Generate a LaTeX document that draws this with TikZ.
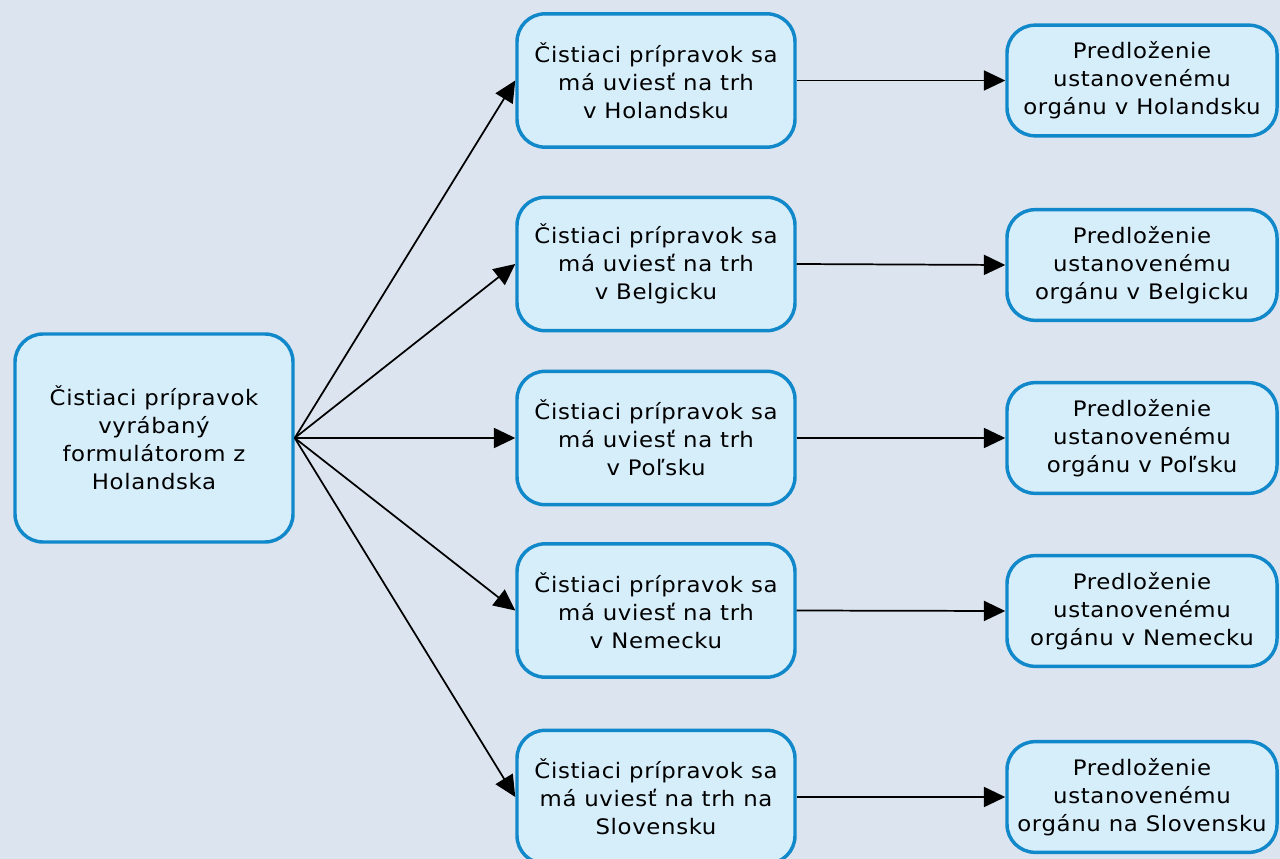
\documentclass[tikz,border=0pt]{standalone}
\usepackage{fontspec}
\setmainfont{DejaVu Sans}[FakeStretch=1.07, LetterSpace=3]
\usetikzlibrary{arrows.meta}
\definecolor{pagebg}{HTML}{DCE4EF}
\definecolor{boxfill}{HTML}{D6EDFA}
\definecolor{boxline}{HTML}{1088CA}
\tikzset{
  box/.style={draw=boxline, fill=boxfill, line width=2.6pt, rounded corners=21pt,
    align=center, inner sep=0pt, font=\fontsize{16}{21}\selectfont},
  srcbox/.style={box, minimum width=208.5pt, minimum height=156pt},
  midbox/.style={box, minimum width=208.5pt, minimum height=100pt},
  dstbox/.style={box, minimum width=202.5pt, minimum height=83pt},
  link/.style={draw=black, line width=1.3pt, -{Triangle[length=16pt,width=15pt]}}
}
\begin{document}
\begin{tikzpicture}[x=0.75pt, y=-0.75pt]
  \useasboundingbox (0,0) rectangle (1280,859);
  \fill[pagebg] (0,0) rectangle (1280,859);
  \clip (0,0) rectangle (1280,859);

  % producer
  \node[srcbox] (src) at (154,438) {Čistiaci prípravok\\vyrábaný\\formulátorom z\\Holandska};

  % target markets
  \node[midbox] (m1) at (656,80.5) {Čistiaci prípravok sa\\má uviesť na trh\\v Holandsku};
  \node[midbox] (m2) at (656,264) {Čistiaci prípravok sa\\má uviesť na trh\\v Belgicku};
  \node[midbox] (m3) at (656,438) {Čistiaci prípravok sa\\má uviesť na trh\\v Poľsku};
  \node[midbox] (m4) at (656,610.5) {Čistiaci prípravok sa\\má uviesť na trh\\v Nemecku};
  \node[midbox] (m5) at (656,797) {Čistiaci prípravok sa\\má uviesť na trh na\\Slovensku};

  % submissions
  \node[dstbox] (r1) at (1142,80.5) {Predloženie\\ustanovenému\\orgánu v Holandsku};
  \node[dstbox] (r2) at (1142,265) {Predloženie\\ustanovenému\\orgánu v Belgicku};
  \node[dstbox] (r3) at (1142,438) {Predloženie\\ustanovenému\\orgánu v Poľsku};
  \node[dstbox] (r4) at (1142,611) {Predloženie\\ustanovenému\\orgánu v Nemecku};
  \node[dstbox] (r5) at (1142,797) {Predloženie\\ustanovenému\\orgánu na Slovensku};

  \foreach \i in {1,...,5} {
    \draw[link] (src.east) -- (m\i.west);
    \draw[link] (m\i.east) -- (r\i.west);
  }
\end{tikzpicture}
\end{document}
